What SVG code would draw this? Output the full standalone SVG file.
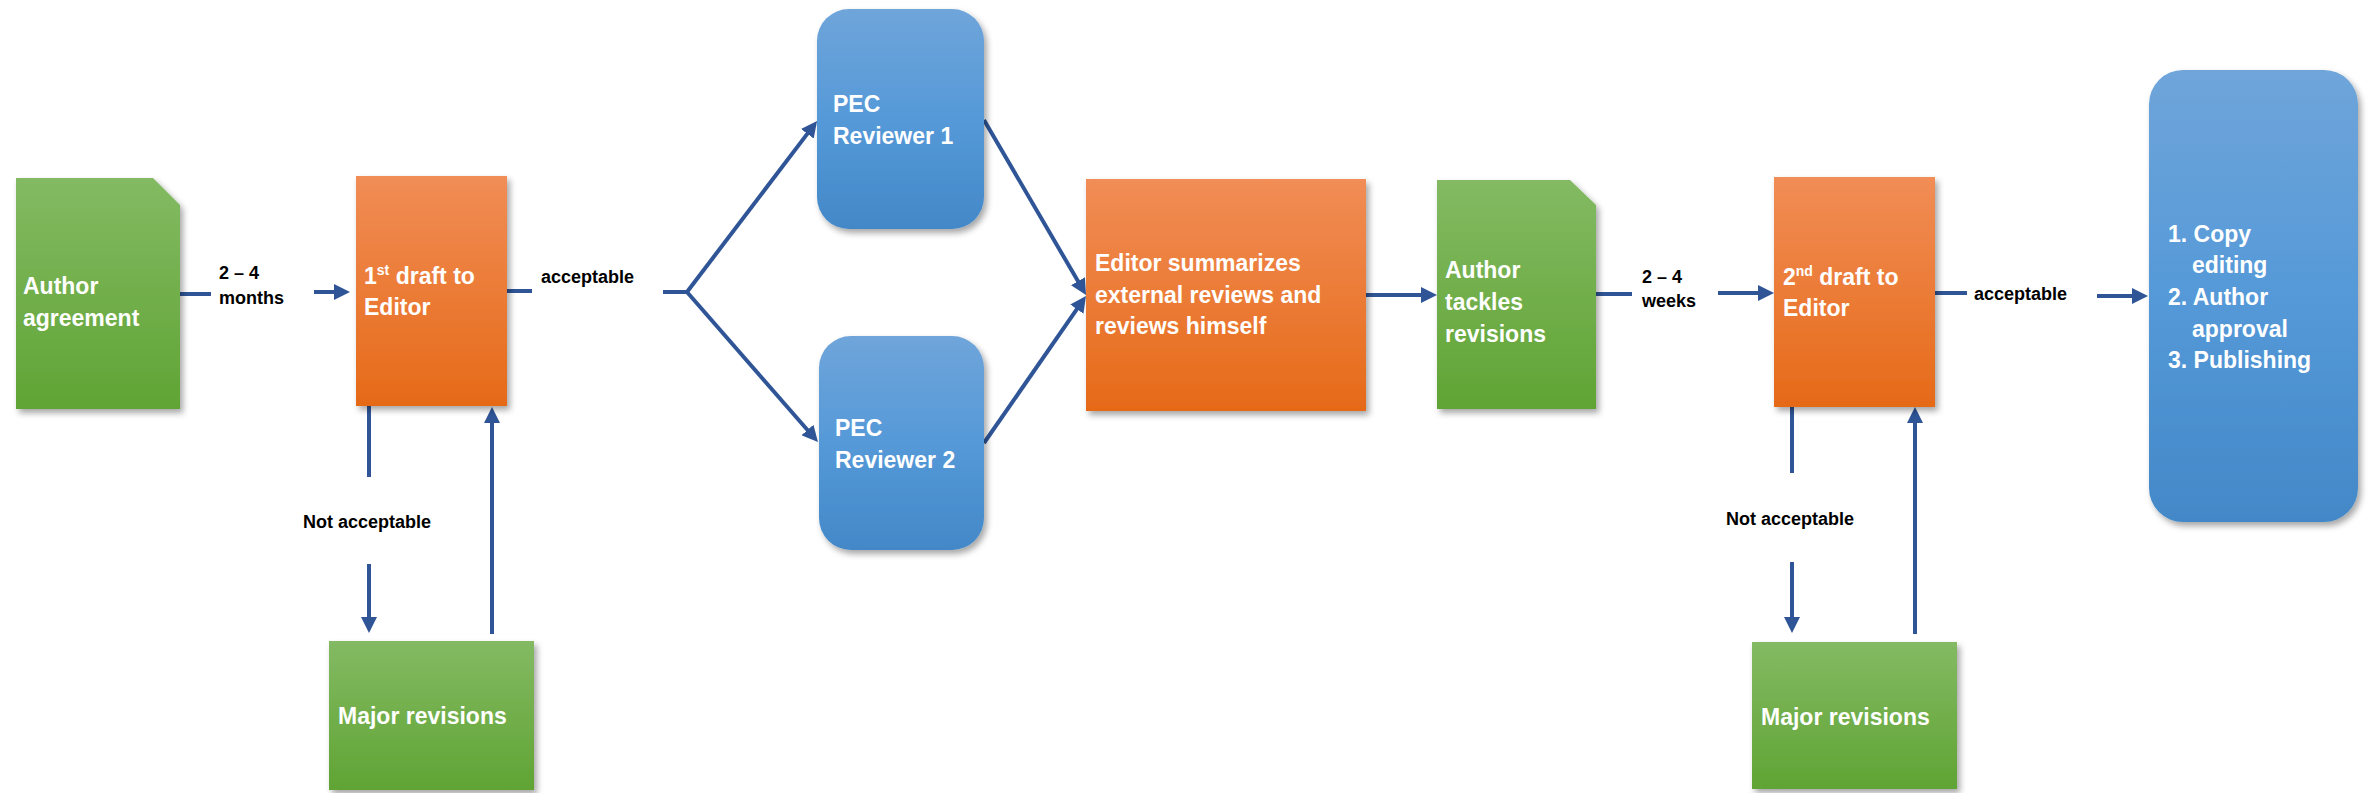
<svg xmlns="http://www.w3.org/2000/svg" width="2369" height="793" viewBox="0 0 2369 793">
  <defs>
    <linearGradient id="gGreen" x1="0" y1="0" x2="0" y2="1">
      <stop offset="0" stop-color="#83BA63"/>
      <stop offset="1" stop-color="#60A434"/>
    </linearGradient>
    <linearGradient id="gOrange" x1="0" y1="0" x2="0" y2="1">
      <stop offset="0" stop-color="#F18D56"/>
      <stop offset="1" stop-color="#E66A18"/>
    </linearGradient>
    <linearGradient id="gBlue" x1="0" y1="0" x2="0" y2="1">
      <stop offset="0" stop-color="#6FA5DA"/>
      <stop offset="0.5" stop-color="#5599D8"/>
      <stop offset="1" stop-color="#4388C8"/>
    </linearGradient>
    <filter id="shadow" x="-10%" y="-10%" width="130%" height="130%">
      <feDropShadow dx="3" dy="4" stdDeviation="3" flood-color="#000" flood-opacity="0.35"/>
    </filter>
    <marker id="arrow" viewBox="0 0 16 16" markerWidth="16" markerHeight="16" refX="8" refY="8" orient="auto" markerUnits="userSpaceOnUse">
      <path d="M0,0 L16,8 L0,16 z" fill="#2F5597"/>
    </marker>
    <style>
      .node-text { font-family: "Liberation Sans", Arial, sans-serif; font-weight: bold; font-size: 23px; fill: #FFFFFF; }
      .label { font-family: "Liberation Sans", Arial, sans-serif; font-weight: bold; font-size: 18px; fill: #000000; }
      .sup { font-size: 14px; }
      .green { fill: url(#gGreen); filter: url(#shadow); }
      .orange { fill: url(#gOrange); filter: url(#shadow); }
      .blue { fill: url(#gBlue); filter: url(#shadow); }
      .conn { stroke: #2F5597; stroke-width: 4; fill: none; }
      .arr { marker-end: url(#arrow); }
    </style>
  </defs>

  <rect width="2369" height="793" fill="#FFFFFF"/>

  <!-- connectors -->
  <g id="connectors">
    <!-- Author agreement to 1st draft -->
    <line class="conn" x1="180" y1="294" x2="211" y2="294"/>
    <line class="conn arr" x1="314" y1="292" x2="342" y2="292"/>
    <!-- 1st draft acceptable, fork to reviewers -->
    <line class="conn" x1="507" y1="291" x2="532" y2="291"/>
    <line class="conn" x1="663" y1="292" x2="687" y2="292"/>
    <line class="conn arr" x1="687" y1="292" x2="812.2" y2="127.4"/>
    <line class="conn arr" x1="687" y1="292" x2="812.7" y2="436"/>
    <!-- 1st draft not acceptable loop -->
    <line class="conn" x1="369" y1="405" x2="369" y2="477"/>
    <line class="conn arr" x1="369" y1="564" x2="369" y2="625"/>
    <line class="conn arr" x1="492" y1="634" x2="492" y2="415"/>
    <!-- reviewers to editor -->
    <line class="conn arr" x1="984" y1="120" x2="1082" y2="288.1"/>
    <line class="conn arr" x1="984" y1="443" x2="1081.4" y2="302.6"/>
    <!-- editor to author -->
    <line class="conn arr" x1="1366" y1="295" x2="1429" y2="295"/>
    <!-- author tackles revisions to 2nd draft -->
    <line class="conn" x1="1596" y1="294" x2="1632" y2="294"/>
    <line class="conn arr" x1="1718" y1="293" x2="1766" y2="293"/>
    <!-- 2nd draft acceptable -->
    <line class="conn" x1="1935" y1="293" x2="1967" y2="293"/>
    <line class="conn arr" x1="2097" y1="296" x2="2140" y2="296"/>
    <!-- 2nd draft not acceptable loop -->
    <line class="conn" x1="1792" y1="406" x2="1792" y2="473"/>
    <line class="conn arr" x1="1792" y1="562" x2="1792" y2="625"/>
    <line class="conn arr" x1="1915" y1="634" x2="1915" y2="415"/>

    <!-- connector labels -->
    <text class="label" x="219" y="279">2 – 4</text>
    <text class="label" x="219" y="304">months</text>
    <text class="label" x="541" y="283">acceptable</text>
    <text class="label" x="303" y="528">Not acceptable</text>
    <text class="label" x="1642" y="283">2 – 4</text>
    <text class="label" x="1642" y="307">weeks</text>
    <text class="label" x="1974" y="300">acceptable</text>
    <text class="label" x="1726" y="525">Not acceptable</text>
  </g>

  <g id="author-agreement">
    <path class="green" d="M16,178 L153,178 L180,205 L180,409 L16,409 Z"/>
    <text class="node-text" x="23" y="294">Author</text>
    <text class="node-text" x="23" y="326">agreement</text>
  </g>

  <g id="first-draft">
    <rect class="orange" x="356" y="176" width="151" height="230"/>
    <text class="node-text" x="364" y="284">1<tspan class="sup" dy="-9">st</tspan><tspan dy="9"> draft to</tspan></text>
    <text class="node-text" x="364" y="315">Editor</text>
  </g>

  <g id="major-revisions-1">
    <rect class="green" x="329" y="641" width="205" height="149"/>
    <text class="node-text" x="338" y="724">Major revisions</text>
  </g>

  <g id="pec-reviewer-1">
    <rect class="blue" x="817" y="9" width="167" height="220" rx="32" ry="32"/>
    <text class="node-text" x="833" y="112">PEC</text>
    <text class="node-text" x="833" y="144">Reviewer 1</text>
  </g>

  <g id="pec-reviewer-2">
    <rect class="blue" x="819" y="336" width="165" height="214" rx="32" ry="32"/>
    <text class="node-text" x="835" y="436">PEC</text>
    <text class="node-text" x="835" y="468">Reviewer 2</text>
  </g>

  <g id="editor-summary">
    <rect class="orange" x="1086" y="179" width="280" height="232"/>
    <text class="node-text" x="1095" y="271">Editor summarizes</text>
    <text class="node-text" x="1095" y="303">external reviews and</text>
    <text class="node-text" x="1095" y="334">reviews himself</text>
  </g>

  <g id="author-tackles">
    <path class="green" d="M1437,180 L1570,180 L1596,205 L1596,409 L1437,409 Z"/>
    <text class="node-text" x="1445" y="278">Author</text>
    <text class="node-text" x="1445" y="310">tackles</text>
    <text class="node-text" x="1445" y="342">revisions</text>
  </g>

  <g id="second-draft">
    <rect class="orange" x="1774" y="177" width="161" height="230"/>
    <text class="node-text" x="1783" y="285">2<tspan class="sup" dy="-9">nd</tspan><tspan dy="9"> draft to</tspan></text>
    <text class="node-text" x="1783" y="316">Editor</text>
  </g>

  <g id="major-revisions-2">
    <rect class="green" x="1752" y="642" width="205" height="147"/>
    <text class="node-text" x="1761" y="725">Major revisions</text>
  </g>

  <g id="publishing">
    <rect class="blue" x="2149" y="70" width="209" height="452" rx="34" ry="34"/>
    <text class="node-text" x="2168" y="242">1. Copy</text>
    <text class="node-text" x="2192" y="273">editing</text>
    <text class="node-text" x="2168" y="305">2. Author</text>
    <text class="node-text" x="2192" y="337">approval</text>
    <text class="node-text" x="2168" y="368">3. Publishing</text>
  </g>
</svg>
